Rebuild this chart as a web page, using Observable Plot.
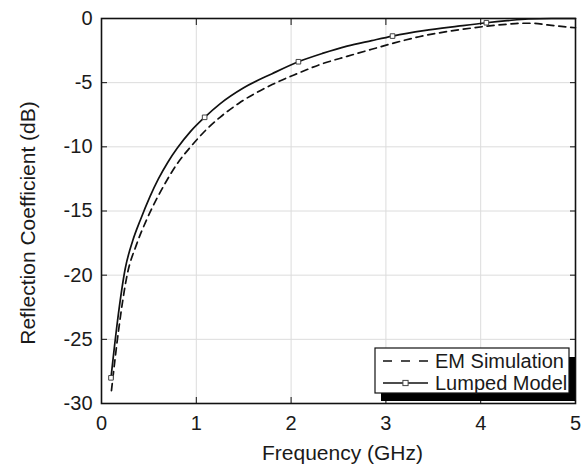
<!DOCTYPE html>
<html>
<head>
<meta charset="utf-8">
<script src="https://cdn.jsdelivr.net/npm/d3@7"></script>
<script src="https://cdn.jsdelivr.net/npm/@observablehq/plot@0.6"></script>
<style>
  html, body { margin: 0; padding: 0; background: #fff; }
  svg { display: block; }
</style>
</head>
<body>
<div id="chart"></div>
<script>
// ---- data ----
const emFreq = [0.105, 0.18, 0.27, 0.37, 0.475, 0.60, 0.69, 0.80, 0.94, 1.10, 1.25, 1.45, 1.80, 2.07, 2.30, 2.59, 2.85, 3.09, 3.35, 3.58, 3.80, 4.04, 4.28, 4.45, 4.55, 4.70, 4.85, 5.0];
const emDb   = [-29.0, -24.3, -20.0, -17.6, -15.7, -13.8, -12.6, -11.3, -10.0, -8.7, -7.7, -6.6, -5.15, -4.28, -3.6, -2.95, -2.4, -1.9, -1.42, -1.1, -0.85, -0.62, -0.45, -0.37, -0.37, -0.5, -0.62, -0.72];

const lumpFreq = [0.10, 0.17, 0.25, 0.33, 0.41, 0.51, 0.60, 0.70, 0.80, 0.94, 1.088, 1.25, 1.50, 1.80, 2.077, 2.33, 2.59, 2.85, 3.07, 3.40, 3.76, 4.06, 4.28, 4.50, 4.75, 5.0];
const lumpDb   = [-28.0, -23.5, -19.5, -17.3, -15.7, -13.9, -12.5, -11.2, -10.1, -8.8, -7.7, -6.65, -5.4, -4.3, -3.37, -2.72, -2.15, -1.72, -1.37, -0.95, -0.6, -0.33, -0.17, -0.04, 0.0, 0.0];

const markFreq = [0.10, 1.088, 2.077, 3.07, 4.06];
const markDb   = [-28.0, -7.7, -3.37, -1.37, -0.33];

const xTicks = [0, 1, 2, 3, 4, 5];
const yTicks = [0, -5, -10, -15, -20, -25, -30];
const xTitle = "Frequency (GHz)";
const yTitle = "Reflection Coefficient (dB)";
const seriesNames = ["EM Simulation", "Lumped Model"];

// ---- build tables ----
const em = emFreq.map((f, i) => ({f, db: emDb[i]}));
const lump = lumpFreq.map((f, i) => ({f, db: lumpDb[i]}));
const marks = markFreq.map((f, i) => ({f, db: markDb[i]}));

const W = 584, H = 472;
const mL = 101, mR = 9, mT = 18, mB = 69;
const FONT = "'Liberation Sans', Arial, sans-serif";
const fmt = d => String(d); // plain hyphen-minus like the reference

const plot = Plot.plot({
  width: W,
  height: H,
  marginLeft: mL,
  marginRight: mR,
  marginTop: mT,
  marginBottom: mB,
  style: {fontFamily: FONT, fontSize: "20px", color: "#1a1a1a", background: "#fff", overflow: "visible"},
  x: {domain: [0, 5], label: null},
  y: {domain: [-30, 0], label: null},
  marks: [
    Plot.gridX(xTicks, {stroke: "#dcdcdc", strokeOpacity: 1, strokeWidth: 1}),
    Plot.gridY(yTicks, {stroke: "#dcdcdc", strokeOpacity: 1, strokeWidth: 1}),
    Plot.line(em, {x: "f", y: "db", stroke: "#111", strokeWidth: 1.7, strokeDasharray: "7,5", curve: "monotone-x"}),
    Plot.line(lump, {x: "f", y: "db", stroke: "#111", strokeWidth: 1.7, curve: "monotone-x"}),
    Plot.dot(marks, {x: "f", y: "db", symbol: "square", r: 2.6, fill: "#fff", stroke: "#444", strokeWidth: 1}),
    // inward ticks on all four sides
    Plot.axisX(xTicks, {anchor: "bottom", tickSize: -6, tickFormat: () => "", label: null, stroke: "#111"}),
    Plot.axisX(xTicks, {anchor: "top", tickSize: -6, tickFormat: () => "", label: null, stroke: "#111"}),
    Plot.axisY(yTicks, {anchor: "left", tickSize: -6, tickFormat: () => "", label: null, stroke: "#111"}),
    Plot.axisY(yTicks, {anchor: "right", tickSize: -6, tickFormat: () => "", label: null, stroke: "#111"}),
    // tick labels
    Plot.axisX(xTicks, {anchor: "bottom", tickSize: 0, tickPadding: 12, label: null, fontSize: 20, tickFormat: fmt}),
    Plot.axisY(yTicks, {anchor: "left", tickSize: 0, tickPadding: 9, label: null, fontSize: 20, tickFormat: fmt}),
    Plot.frame({stroke: "#111", strokeWidth: 1.6}),
    Plot.text([xTitle], {frameAnchor: "bottom", dx: 4, dy: 50, fontSize: 21, lineAnchor: "middle", textAnchor: "middle"}),
    Plot.text([yTitle], {frameAnchor: "left", dx: -73, dy: 12, rotate: -90, fontSize: 21, lineAnchor: "middle", textAnchor: "middle"})
  ]
});

document.getElementById("chart").appendChild(plot);

// ---- legend (boxed, with drop shadow) placed at the frame's lower right ----
const svg = d3.select(plot);
const fr = W - mR, fb = H - mB; // frame right, frame bottom
const box = {x: fr - 200, y: fb - 55, w: 194, h: 45};
const lg = svg.append("g");
lg.append("rect").attr("x", box.x + 6).attr("y", box.y + 9).attr("width", box.w).attr("height", box.h - 1).attr("fill", "#000");
lg.append("rect").attr("x", box.x).attr("y", box.y).attr("width", box.w).attr("height", box.h).attr("fill", "#fff").attr("stroke", "#111").attr("stroke-width", 1.2);
const rows = [box.y + 13, box.y + 35];
const sx0 = box.x + 8, sx1 = box.x + 53;
lg.append("line").attr("x1", sx0).attr("x2", sx1).attr("y1", rows[0]).attr("y2", rows[0]).attr("stroke", "#111").attr("stroke-width", 1.7).attr("stroke-dasharray", "9,9");
lg.append("line").attr("x1", sx0).attr("x2", sx1).attr("y1", rows[1]).attr("y2", rows[1]).attr("stroke", "#111").attr("stroke-width", 1.7);
lg.append("rect").attr("x", (sx0 + sx1) / 2 - 2.6).attr("y", rows[1] - 2.6).attr("width", 5.2).attr("height", 5.2).attr("fill", "#fff").attr("stroke", "#444");
seriesNames.forEach((name, i) => {
  lg.append("text").attr("x", box.x + 60).attr("y", rows[i]).attr("dy", "0.35em")
    .attr("text-anchor", "start")
    .attr("font-family", FONT).attr("font-size", 20).attr("fill", "#1a1a1a").text(name);
});
</script>
</body>
</html>
